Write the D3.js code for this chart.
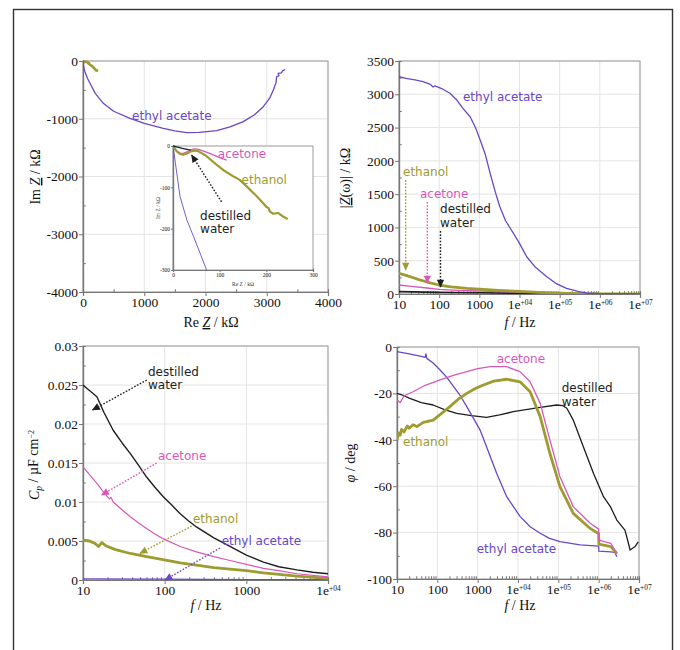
<!DOCTYPE html>
<html>
<head>
<meta charset="utf-8">
<script src="https://cdn.jsdelivr.net/npm/d3@7/dist/d3.min.js"></script>
<style>
  body { margin: 0; background: #fff; }
</style>
</head>
<body>
<svg id="chart" width="680" height="650"></svg>
<script>

// ---- data ----
var series_names = ["ethyl acetate", "acetone", "ethanol", "destilled water"];

// Nyquist: [Re Z, Im Z] in kOhm
var nyq_ethyl_acetate = [[0,0],[5,-40],[15,-122],[30,-180],[44,-219],[60,-265],[72,-300],[114,-386],[200,-560],[332,-733],[500,-870],[767,-993],[1000,-1080],[1311,-1166],[1500,-1210],[1693,-1241],[1900,-1235],[2182,-1207],[2400,-1140],[2617,-1050],[2800,-930],[2944,-791],[3050,-640],[3107,-502],[3150,-380],[3162,-272],[3200,-255],[3185,-215],[3240,-205],[3255,-172],[3300,-150]];
var nyq_acetone = [[0,0],[8,-12],[15,-17],[22,-18],[30,-14],[38,-9],[47,-7],[55,-8],[70,-14],[85,-21],[100,-28],[115,-34]];
var nyq_ethanol = [[0,0],[8,-13],[15,-19],[22,-21],[30,-18],[38,-13],[47,-11],[55,-13],[70,-23],[90,-42],[110,-60],[130,-74],[143,-82],[160,-100],[180,-122],[200,-147],[205,-151],[208,-159],[215,-164],[225,-162],[235,-170],[246,-177]];
var nyq_water = [[0,0],[10,-3],[20,-6],[33,-9],[38,-10]];

// |Z(w)| vs f: [f Hz, kOhm]
var mod_ethyl_acetate = [[10,3264],[15,3240],[25,3215],[40,3190],[60,3150],[70,3110],[80,3125],[87,3114],[120,3080],[186,3015],[230,2960],[275,2914],[400,2780],[590,2663],[800,2500],[1050,2313],[1400,2100],[1860,1813],[2500,1530],[3240,1311],[4500,1100],[7080,912],[10000,760],[15100,560],[25000,400],[47900,260],[80000,160],[148000,85],[300000,35],[468000,15],[1e6,6],[3e6,4],[1e7,3]];
var mod_acetone = [[10,135],[20,115],[50,90],[100,70],[300,55],[1000,45],[10000,30],[100000,10],[1e6,2],[1e7,1]];
var mod_ethanol = [[10,311],[15,280],[20,255],[30,220],[50,180],[100,135],[200,108],[500,85],[1000,72],[3000,55],[10000,40],[30000,25],[100000,12],[300000,5],[1e6,2],[1e7,1]];
var mod_water = [[10,35],[100,25],[1000,18],[10000,12],[100000,6],[1e6,2],[1e7,1]];

// C_p vs f: [f Hz, uF cm-2]
var cap_water = [[10,0.025],[12,0.0243],[14.8,0.0235],[18,0.0215],[23.4,0.0192],[30,0.0176],[38,0.0162],[48,0.0147],[60,0.0132],[76,0.0119],[95.5,0.0107],[122,0.0096],[155,0.0085],[195,0.0076],[245,0.0068],[400,0.0054],[631,0.0043],[1000,0.0032],[1622,0.0023],[2500,0.0017],[4169,0.0013],[6500,0.001],[10000,0.0008]];
var cap_acetone = [[10,0.0145],[12,0.0135],[14.8,0.0124],[18,0.0112],[21,0.0104],[22,0.0106],[23.4,0.01],[30,0.009],[38,0.0081],[48,0.0073],[60,0.0066],[76,0.0059],[95.5,0.0053],[155,0.0043],[245,0.0036],[400,0.003],[631,0.0025],[1000,0.002],[1622,0.0015],[2500,0.0012],[4169,0.0008],[10000,0.0004]];
var cap_ethanol = [[10,0.0051],[12,0.005],[14,0.0047],[15.5,0.0043],[17,0.0048],[19,0.0044],[25,0.0039],[38,0.0034],[60,0.003],[95.5,0.0026],[155,0.0022],[245,0.0019],[400,0.0016],[631,0.0014],[1000,0.0012],[1622,0.0009],[4169,0.0005],[10000,0.0002]];
var cap_ethyl_acetate = [[10,0.00015],[100,0.0001],[1000,0.00006],[10000,0.00003]];

// phase vs f: [f Hz, deg]
var phase_ethyl_acetate = [[10,-2],[20,-3],[40,-4],[50,-4.5],[52,-3],[55,-4.9],[80,-7],[117,-9.9],[170,-13],[251,-17],[370,-21],[537,-25.7],[800,-31],[1148,-35.8],[1660,-43],[2951,-54.4],[5248,-64.5],[11220,-73],[20000,-77.5],[35480,-80.3],[60000,-82.5],[109600,-83.9],[346700,-85.3],[1e6,-85.8],[1.01e6,-88],[2e6,-88.3],[2.5e6,-88.5],[2.82e6,-90.4]];
var phase_acetone = [[10,-22.8],[12,-24],[15,-21],[25,-19.3],[50,-16.5],[117,-14.2],[250,-12.2],[537,-10.6],[1000,-9.3],[2042,-8.5],[5248,-8.5],[11220,-10.6],[19950,-15],[35480,-24.3],[61660,-40],[109600,-55.9],[234400,-68.8],[616600,-76],[1e6,-78.5],[1.01e6,-83.2],[2e6,-84.6],[2.82e6,-89]];
var phase_ethanol = [[10,-40],[11,-37],[12,-38],[13,-35.5],[15,-36.6],[18,-34],[20,-35],[25,-33.5],[31,-34.3],[45,-32.5],[79,-31.5],[130,-28.5],[204,-25.7],[330,-22.5],[537,-20],[850,-18],[1380,-16.4],[2500,-14.7],[5248,-13.9],[11220,-15],[19950,-19.3],[35480,-30],[61660,-45.8],[109600,-60.2],[234400,-71.7],[616600,-78.2],[1e6,-80.5],[1.01e6,-85],[2e6,-86],[2.82e6,-89]];
var phase_water = [[10,-20],[15,-21],[20,-22],[40,-24],[79,-25],[150,-27],[302,-28.6],[700,-29.6],[1660,-30.3],[3500,-29.3],[7586,-27.9],[35480,-26],[91200,-25],[130000,-25.3],[162200,-26.4],[234400,-31.5],[416900,-43],[741300,-54.4],[1.318e6,-64.5],[1.95e6,-68.8],[2.82e6,-74.6],[4.47e6,-78.9],[5e6,-82],[6.03e6,-87.5],[8e6,-86],[9.55e6,-84]];

// ticks
var ticks_re = [0, 1000, 2000, 3000, 4000];
var ticks_im = [-4000, -3000, -2000, -1000, 0];
var ticks_inset_re = [0, 100, 200, 300];
var ticks_inset_im = [-300, -200, -100, 0];
var ticks_f_long = [10, 100, 1000, 1e4, 1e5, 1e6, 1e7];
var ticks_f_short = [10, 100, 1000, 1e4];
var ticks_absz = [0, 500, 1000, 1500, 2000, 2500, 3000, 3500];
var ticks_cp = [0, 0.005, 0.01, 0.015, 0.02, 0.025, 0.03];
var ticks_phase = [-100, -80, -60, -40, -20, 0];

// ---- styles ----
var col_ea = "#6a47c6";
var col_ac = "#d957b9";
var col_et = "#9e9b30";
var col_wa = "#1e1e1e";
var serif = "'Liberation Serif', 'Times New Roman', serif";
var sans = "'DejaVu Sans', 'Noto Sans', sans-serif";
var axis_color = "#777";
var grid_color = "#e4e4e4";
var tick_font_size = 13.5;
var label_font_size = 12;
var label_line_gap = 13.5;

var svg = d3.select("#chart");
var defs = svg.append("defs");

// outer frame of the figure
svg.append("rect")
  .attr("x", 13.5).attr("y", 9.5)
  .attr("width", 659).attr("height", 670)
  .attr("fill", "none")
  .attr("stroke", "#333")
  .attr("stroke-width", 1.4);

// scales
var x1 = d3.scaleLinear().domain([0, 4000]).range([83, 328]);
var y1 = d3.scaleLinear().domain([-4000, 0]).range([292, 61]);
var xi = d3.scaleLinear().domain([0, 300]).range([173, 313]);
var yi = d3.scaleLinear().domain([-300, 0]).range([270, 146]);
var x2 = d3.scaleLog().domain([10, 1e7]).range([399, 640]);
var y2 = d3.scaleLinear().domain([0, 3500]).range([294, 61]);
var x3 = d3.scaleLog().domain([10, 1e4]).range([83, 328]);
var y3 = d3.scaleLinear().domain([0, 0.03]).range([580, 346]);
var x4 = d3.scaleLog().domain([10, 1e7]).range([397, 639]);
var y4 = d3.scaleLinear().domain([-100, 0]).range([579, 347]);

var log_minor = function(lo, hi){
  var out = [];
  for (var e = Math.log10(lo); e < Math.log10(hi); e++){
    for (var k = 2; k < 10; k++) out.push(k * Math.pow(10, e));
  }
  return out;
};
var lin_minor = function(major){
  var out = [];
  for (var i = 0; i < major.length - 1; i++) out.push((major[i] + major[i+1]) / 2);
  return out;
};

var style_ticks = function(g, size){
  g.select(".domain").attr("stroke", axis_color).attr("stroke-width", 1.2);
  g.selectAll(".tick line").attr("stroke", axis_color);
  g.selectAll(".tick text")
    .attr("font-family", serif)
    .attr("font-size", size)
    .attr("fill", "#111");
};

// "1e+04" drawn as 1e with a small raised +04
var sup_labels = function(g){
  g.selectAll(".tick text").each(function(d){
    if (d >= 1e4){
      var t = d3.select(this);
      var ex = Math.round(Math.log10(d));
      t.text("1e");
      t.append("tspan").attr("dy", "-0.55em").attr("font-size", "0.55em").text("+0" + ex);
    }
  });
};

var draw_frame = function(x, y, xt, yt, xminor, yminor, opts){
  var g = svg.append("g");
  var x0 = x.range()[0], x1r = x.range()[1];
  var yb = y.range()[0], ytp = y.range()[1];
  if (opts.bg){
    g.append("rect").attr("x", x0).attr("y", ytp).attr("width", x1r - x0).attr("height", yb - ytp).attr("fill", "#fff");
  }
  if (opts.grid){
    g.selectAll(".vg").data(xt).enter().append("line")
      .attr("x1", function(d){ return x(d); }).attr("x2", function(d){ return x(d); })
      .attr("y1", ytp).attr("y2", yb)
      .attr("stroke", grid_color).attr("stroke-width", 1);
    g.selectAll(".hg").data(yt).enter().append("line")
      .attr("x1", x0).attr("x2", x1r)
      .attr("y1", function(d){ return y(d); }).attr("y2", function(d){ return y(d); })
      .attr("stroke", grid_color).attr("stroke-width", 1);
  }
  g.append("rect").attr("x", x0).attr("y", ytp).attr("width", x1r - x0).attr("height", yb - ytp)
    .attr("fill", "none").attr("stroke", "#9a9a9a").attr("stroke-width", 1);

  var ts = opts.tick_size;
  var gx = g.append("g").attr("transform", "translate(0," + yb + ")")
    .call(d3.axisBottom(x).tickValues(xt).tickSize(ts).tickPadding(1).tickFormat(opts.xfmt));
  style_ticks(gx, opts.font);
  if (opts.log_x) sup_labels(gx);
  var gxm = g.append("g").attr("transform", "translate(0," + yb + ")")
    .call(d3.axisBottom(x).tickValues(xminor).tickSize(-ts * 0.7).tickFormat(""));
  style_ticks(gxm, opts.font);

  var gy = g.append("g").attr("transform", "translate(" + x0 + ",0)")
    .call(d3.axisLeft(y).tickValues(yt).tickSize(ts).tickPadding(1).tickFormat(opts.yfmt));
  style_ticks(gy, opts.font);
  var gym = g.append("g").attr("transform", "translate(" + x0 + ",0)")
    .call(d3.axisLeft(y).tickValues(yminor).tickSize(-ts * 0.7).tickFormat(""));
  style_ticks(gym, opts.font);
  return g;
};

var clip_id = 0;
var draw_series = function(data, x, y, color, width){
  clip_id += 1;
  var x0 = x.range()[0], x1r = x.range()[1];
  var yb = y.range()[0], ytp = y.range()[1];
  defs.append("clipPath").attr("id", "clip" + clip_id)
    .append("rect").attr("x", x0).attr("y", ytp - 1).attr("width", x1r - x0).attr("height", yb - ytp + 1);
  var line = d3.line().x(function(d){ return x(d[0]); }).y(function(d){ return y(d[1]); });
  svg.append("path")
    .attr("clip-path", "url(#clip" + clip_id + ")")
    .attr("d", line(data))
    .attr("fill", "none")
    .attr("stroke", color)
    .attr("stroke-width", width)
    .attr("stroke-linejoin", "round");
};

var place_text = function(lines, x, y, color, anchor){
  var t = svg.append("text")
    .attr("x", x).attr("y", y)
    .attr("font-family", sans)
    .attr("font-size", label_font_size)
    .attr("text-anchor", anchor || "start")
    .attr("fill", color);
  lines.forEach(function(s, i){
    t.append("tspan").attr("x", x).attr("dy", i == 0 ? 0 : label_line_gap).text(s);
  });
};

var add_marker = function(name, color){
  defs.append("marker").attr("id", "arr_" + name)
    .attr("viewBox", "0 0 10 10").attr("refX", 9).attr("refY", 5)
    .attr("markerWidth", 9).attr("markerHeight", 8)
    .attr("markerUnits", "userSpaceOnUse").attr("orient", "auto")
    .append("path").attr("d", "M0,0.5 L10,5 L0,9.5 Z").attr("fill", color);
};
add_marker("ea", col_ea); add_marker("ac", col_ac); add_marker("et", col_et); add_marker("wa", col_wa);

var place_arrow = function(x, y, from, to, name, color){
  svg.append("line")
    .attr("x1", x(from[0])).attr("y1", y(from[1]))
    .attr("x2", x(to[0])).attr("y2", y(to[1]))
    .attr("stroke", color).attr("stroke-width", 1.4)
    .attr("stroke-dasharray", "1.6,1.6")
    .attr("marker-end", "url(#arr_" + name + ")");
};

var axis_title = function(x, y, rotate, parts){
  var t = svg.append("text")
    .attr("transform", "translate(" + x + "," + y + ")" + (rotate ? " rotate(-90)" : ""))
    .attr("text-anchor", "middle")
    .attr("font-family", serif)
    .attr("font-size", 14)
    .attr("fill", "#111");
  parts.forEach(function(p){
    var s = t.append("tspan").text(p.t);
    if (p.i) s.attr("font-style", "italic");
    if (p.u) s.attr("text-decoration", "underline");
    if (p.dy) s.attr("dy", p.dy);
    if (p.fs) s.attr("font-size", p.fs);
  });
  return t;
};

var plain = function(d){ return String(d); };

// ---- panel 1 : Nyquist ----
draw_frame(x1, y1, ticks_re, ticks_im, lin_minor(ticks_re), lin_minor(ticks_im),
  {grid: true, tick_size: 4, font: tick_font_size, xfmt: plain, yfmt: plain});
draw_series(nyq_water, x1, y1, col_wa, 1.3);
draw_series(nyq_acetone, x1, y1, col_ac, 1.3);
draw_series(nyq_ethanol, x1, y1, col_et, 2.6);
draw_series(nyq_ethyl_acetate, x1, y1, col_ea, 1.3);
place_text([series_names[0]], x1(1450), y1(-1020), col_ea, "middle");
axis_title(211, 327, false, [{t: "Re "}, {t: "Z", i: true, u: true}, {t: " / kΩ"}]);
axis_title(40, 177, true, [{t: "Im "}, {t: "Z", i: true, u: true}, {t: " / kΩ"}]);

// inset
draw_frame(xi, yi, ticks_inset_re, ticks_inset_im, [], [],
  {bg: true, grid: false, tick_size: 2, font: 5.5, xfmt: plain, yfmt: plain});
draw_series(nyq_ethyl_acetate, xi, yi, col_ea, 0.9);
draw_series(nyq_acetone, xi, yi, col_ac, 1.3);
draw_series(nyq_ethanol, xi, yi, col_et, 2.2);
draw_series(nyq_water, xi, yi, col_wa, 1.3);
svg.append("text").attr("x", 243).attr("y", 286).attr("text-anchor", "middle")
  .attr("font-family", serif).attr("font-size", 5.5).attr("fill", "#333").text("Re Z / kΩ");
svg.append("text").attr("transform", "translate(160,208) rotate(-90)").attr("text-anchor", "middle")
  .attr("font-family", serif).attr("font-size", 5.5).attr("fill", "#333").text("Im Z / kΩ");
place_text([series_names[1]], xi(96), yi(-29), col_ac);
place_text([series_names[2]], xi(147), yi(-92), col_et);
place_text(["destilled", "water"], xi(58), yi(-178), col_wa);
place_arrow(xi, yi, [104, -135], [40, -22], "wa", col_wa);

// ---- panel 2 : |Z| ----
draw_frame(x2, y2, ticks_f_long, ticks_absz, log_minor(10, 1e7), lin_minor(ticks_absz),
  {grid: true, tick_size: 4, font: tick_font_size, xfmt: plain, yfmt: plain, log_x: true});
draw_series(mod_water, x2, y2, col_wa, 1.6);
draw_series(mod_acetone, x2, y2, col_ac, 1.3);
draw_series(mod_ethanol, x2, y2, col_et, 2.8);
draw_series(mod_ethyl_acetate, x2, y2, col_ea, 1.3);
place_text([series_names[0]], x2(392), y2(2899), col_ea);
place_text([series_names[2]], x2(12.6), y2(1773), col_et);
place_arrow(x2, y2, [14.7, 1712], [14.7, 360], "et", col_et);
place_text([series_names[1]], x2(33.3), y2(1442), col_ac);
place_arrow(x2, y2, [50.7, 1382], [50.7, 165], "ac", col_ac);
place_text(["destilled", "water"], x2(105), y2(1215), col_wa);
place_arrow(x2, y2, [108, 945], [108, 105], "wa", col_wa);
axis_title(520, 327, false, [{t: "f", i: true}, {t: " / Hz"}]);
axis_title(350, 178, true, [{t: "|"}, {t: "Z", i: true, u: true}, {t: "(ω)| / kΩ"}]);

// ---- panel 3 : C_p ----
draw_frame(x3, y3, ticks_f_short, ticks_cp, log_minor(10, 1e4), lin_minor(ticks_cp),
  {grid: true, tick_size: 4, font: tick_font_size, xfmt: plain, yfmt: plain, log_x: true});
draw_series(cap_ethyl_acetate, x3, y3, col_ea, 1.3);
draw_series(cap_ethanol, x3, y3, col_et, 2.8);
draw_series(cap_acetone, x3, y3, col_ac, 1.2);
draw_series(cap_water, x3, y3, col_wa, 1.4);
place_text(["destilled", "water"], x3(62.5), y3(0.0262), col_wa);
place_arrow(x3, y3, [60.4, 0.02564], [13.1, 0.0218], "wa", col_wa);
place_text([series_names[1]], x3(82.8), y3(0.01538), col_ac);
place_arrow(x3, y3, [79.9, 0.015], [16.9, 0.0109], "ac", col_ac);
place_text([series_names[2]], x3(222), y3(0.00731), col_et);
place_arrow(x3, y3, [214, 0.00692], [49.9, 0.00342], "et", col_et);
place_text([series_names[0]], x3(499), y3(0.00449), col_ea);
place_arrow(x3, y3, [475, 0.0041], [101, 0], "ea", col_ea);
axis_title(206, 610, false, [{t: "f", i: true}, {t: " / Hz"}]);
axis_title(39, 465, true, [{t: "C", i: true}, {t: "p", i: true, dy: "0.3em", fs: "9.5px"}, {t: " / µF cm", dy: "-0.3em"}, {t: "−2", dy: "-0.4em", fs: "8px"}]);

// ---- panel 4 : phase ----
draw_frame(x4, y4, ticks_f_long, ticks_phase, log_minor(10, 1e7), lin_minor(ticks_phase),
  {grid: true, tick_size: 4, font: tick_font_size, xfmt: plain, yfmt: plain, log_x: true});
draw_series(phase_water, x4, y4, col_wa, 1.3);
draw_series(phase_ethyl_acetate, x4, y4, col_ea, 1.3);
draw_series(phase_ethanol, x4, y4, col_et, 2.8);
draw_series(phase_acetone, x4, y4, col_ac, 1.3);
place_text([series_names[1]], x4(2966), y4(-7), col_ac);
place_text(["destilled", "water"], x4(121400), y4(-19.5), col_wa);
place_text([series_names[2]], x4(14.1), y4(-42.7), col_et);
place_text([series_names[0]], x4(946), y4(-88.9), col_ea);
axis_title(520, 610, false, [{t: "f", i: true}, {t: " / Hz"}]);
axis_title(355, 463, true, [{t: "φ", i: true}, {t: " / deg"}]);

</script>
</body>
</html>
